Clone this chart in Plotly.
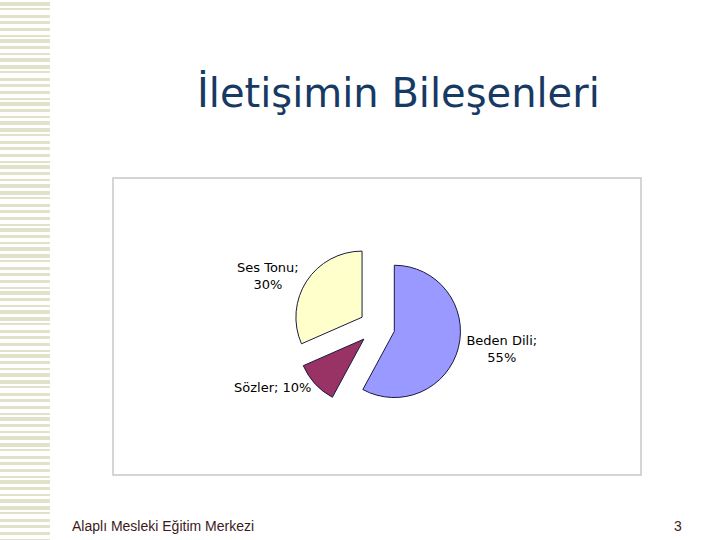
import plotly.graph_objects as go

# Data
categories = ["Beden Dili", "Sözler", "Ses Tonu"]
values = [55, 10, 30]
colors = ["#9999FF", "#993366", "#FFFFCC"]
label_templates = ["%{label};<br>%{value}%", "%{label}; %{value}%", "%{label};<br>%{value}%"]

title_text = "İletişimin Bileşenleri"
footer_text = "Alaplı Mesleki Eğitim Merkezi"
page_number = "3"

W, H = 720, 540

fig = go.Figure()
fig.add_trace(go.Pie(
    labels=categories,
    values=values,
    sort=False,
    direction="clockwise",
    rotation=0,
    pull=[0.27, 0.27, 0.27],
    marker=dict(colors=colors, line=dict(color="#1a1a40", width=1)),
    texttemplate=label_templates,
    textposition="outside",
    textfont=dict(family="DejaVu Sans", size=13, color="#000000"),
    showlegend=False,
    hoverinfo="label+value",
    domain=dict(x=[(377 - 84) / W, (377 + 84) / W], y=[1 - (327 + 84) / H, 1 - (327 - 84) / H]),
))

shapes = []
# chart frame
shapes.append(dict(type="rect", xref="paper", yref="paper",
                   x0=113 / W, x1=641 / W, y0=1 - 475 / H, y1=1 - 178 / H,
                   line=dict(color="#C8C8C8", width=1.5), fillcolor="rgba(0,0,0,0)", layer="below"))
# decorative left stripes
pattern = [4, 2, 3, 3, 3, 2, 4, 3, 2, 4]
gaps = [2, 5, 3, 4, 4, 2, 3, 4, 3, 3]
y = 2
i = 0
while y < H:
    h = pattern[i % len(pattern)]
    shapes.append(dict(type="rect", xref="paper", yref="paper",
                       x0=0, x1=50 / W, y0=1 - (y + h) / H, y1=1 - y / H,
                       line=dict(width=0), fillcolor="#E2E2CB", layer="below"))
    y += h + gaps[i % len(gaps)]
    i += 1

annotations = [
    dict(text=title_text, x=398 / W, y=1 - 92 / H, xref="paper", yref="paper",
         showarrow=False, xanchor="center", yanchor="middle",
         font=dict(family="DejaVu Sans", size=40, color="#173A64")),
    dict(text=footer_text, x=70 / W, y=1 - 526 / H, xref="paper", yref="paper",
         showarrow=False, xanchor="left", yanchor="middle",
         font=dict(family="Liberation Sans", size=14, color="#3D1A1A")),
    dict(text=page_number, x=684 / W, y=1 - 526 / H, xref="paper", yref="paper",
         showarrow=False, xanchor="right", yanchor="middle",
         font=dict(family="Liberation Sans", size=14, color="#3D1A1A")),
]

fig.update_layout(
    width=W, height=H,
    margin=dict(l=0, r=0, t=0, b=0),
    paper_bgcolor="white", plot_bgcolor="white",
    shapes=shapes, annotations=annotations,
)

fig.write_html("out.html", config={"displayModeBar": False},
               post_script="document.body.style.margin='0';document.body.style.overflow='hidden';")
